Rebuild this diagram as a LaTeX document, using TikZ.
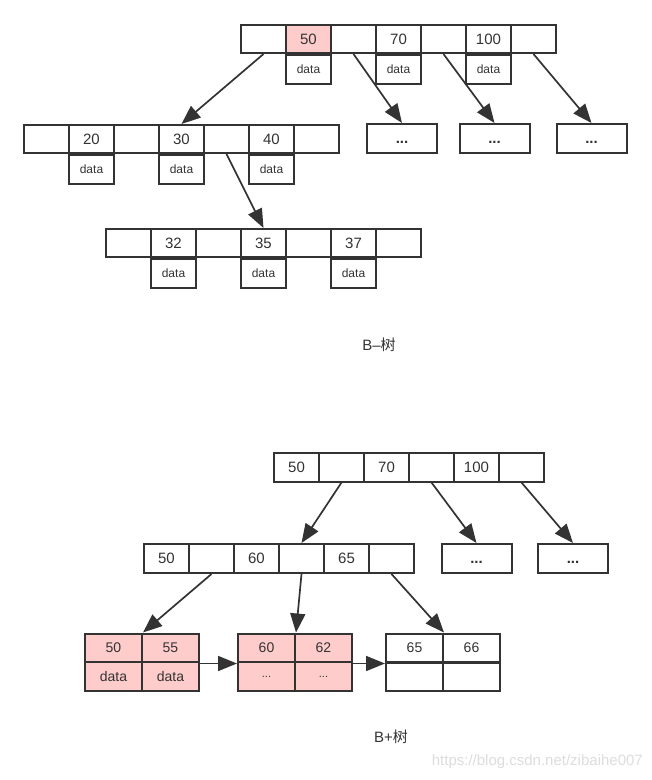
\documentclass[tikz,border=0pt]{standalone}
\usepackage{fontspec}
\setmainfont{Liberation Sans}
\newfontfamily\cjkfont{Noto Sans CJK SC}
\usetikzlibrary{arrows.meta}
\definecolor{ink}{HTML}{333333}
\definecolor{pinkfill}{HTML}{FFCCCC}
\definecolor{wm}{HTML}{DDDDDD}
\begin{document}
\begin{tikzpicture}[x=1pt,y=-1pt,
 cell/.style={draw=ink, line width=2pt, minimum width=45pt, minimum height=28pt, inner sep=0pt, text=ink, font=\fontsize{15}{15}\selectfont},
 datacell/.style={cell, minimum height=29pt, font=\fontsize{12}{12}\selectfont},
 dotbox/.style={cell, minimum width=70pt, minimum height=29pt, font=\fontsize{15}{15}\selectfont\bfseries},
 leafcell/.style={cell, minimum width=57pt, minimum height=29pt, font=\fontsize{14}{14}\selectfont},
 hl/.style={fill=pinkfill},
 arr/.style={draw=ink, line width=1.7pt, -{Triangle[length=19pt,width=15pt]}},
 treetitle/.style={text=ink, inner sep=0pt, font=\fontsize{15}{15}\selectfont},
 watermark/.style={text=wm, inner sep=0pt, font=\fontsize{15}{15}\selectfont}
]
\useasboundingbox[fill=white] (0,0) rectangle (652,780);

% ---------------- B- tree ----------------
% root
\foreach \i/\t in {1/,3/,4/70,5/,6/100,7/}
  \node[cell] (a\i) at ({263.5+45*(\i-1)},39) {\t};
\node[cell,hl] (a2) at (308.5,39) {50};
\node[datacell,anchor=north] (ad2) at (a2.south) {data};
\node[datacell,anchor=north] (ad4) at (a4.south) {data};
\node[datacell,anchor=north] (ad6) at (a6.south) {data};

% second level
\foreach \i/\t in {1/,2/20,3/,4/30,5/,6/40,7/}
  \node[cell] (s\i) at ({46.5+45*(\i-1)},139) {\t};
\node[datacell,anchor=north] (sd2) at (s2.south) {data};
\node[datacell,anchor=north] (sd4) at (s4.south) {data};
\node[datacell,anchor=north] (sd6) at (s6.south) {data};

% dots boxes
\node[dotbox] (d1) at (402,138.5) {\vphantom{0}...};
\node[dotbox] (d2) at (494.5,138.5) {\vphantom{0}...};
\node[dotbox] (d3) at (591.5,138.5) {\vphantom{0}...};

% third level
\foreach \i/\t in {1/,2/32,3/,4/35,5/,6/37,7/}
  \node[cell] (r\i) at ({128.5+45*(\i-1)},243) {\t};
\node[datacell,anchor=north] (rd2) at (r2.south) {data};
\node[datacell,anchor=north] (rd4) at (r4.south) {data};
\node[datacell,anchor=north] (rd6) at (r6.south) {data};

\draw[arr] (a1.south) -- (s4.north);
\draw[arr] (a3.south) -- (d1.north);
\draw[arr] (a5.south) -- (d2.north);
\draw[arr] (a7.south) -- (d3.north);
\draw[arr] (s5.south) -- (r4.north);

\node[treetitle] (tb) at (379,345) {B–{\cjkfont 树}};

% ---------------- B+ tree ----------------
\foreach \i/\t in {1/50,2/,3/70,4/,5/100,6/}
  \node[cell,minimum height=29pt] (p\i) at ({296.5+45*(\i-1)},467) {\t};

\foreach \i/\t in {1/50,2/,3/60,4/,5/65,6/}
  \node[cell,minimum height=29pt] (q\i) at ({166.5+45*(\i-1)},558.5) {\t};

\node[dotbox] (e1) at (476.5,558.5) {\vphantom{0}...};
\node[dotbox] (e2) at (573,558.5) {\vphantom{0}...};

% leaves
\node[leafcell,hl] (l11) at (113.5,648) {50};
\node[leafcell,hl] (l12) at (170.5,648) {55};
\node[leafcell,hl] (l13) at (113.5,676.5) {data};
\node[leafcell,hl] (l14) at (170.5,676.5) {data};

\node[leafcell,hl] (l21) at (266.5,648) {60};
\node[leafcell,hl] (l22) at (323.5,648) {62};
\node[leafcell,hl,font=\fontsize{11}{11}\selectfont] (l23) at (266.5,676.5) {...};
\node[leafcell,hl,font=\fontsize{11}{11}\selectfont] (l24) at (323.5,676.5) {...};

\node[leafcell] (l31) at (414.5,648) {65};
\node[leafcell] (l32) at (471.5,648) {66};
\node[leafcell] (l33) at (414.5,676.5) {};
\node[leafcell] (l34) at (471.5,676.5) {};

\draw[arr] (p2.south) -- (q4.north);
\draw[arr] (p4.south) -- (e1.north);
\draw[arr] (p6.south) -- (e2.north);
\draw[arr] (q2.south) -- (l11.north east);
\draw[arr] (q4.south) -- (l21.north east);
\draw[arr] (q6.south) -- (l31.north east);
\draw[arr] (l12.south east) -- (l21.south west);
\draw[arr] (l22.south east) -- (l31.south west);

\node[treetitle] (tp) at (391,737) {B+{\cjkfont 树}};

\node[watermark,anchor=east] (wmk) at (643,762) {https://blog.csdn.net/zibaihe007};
\end{tikzpicture}
\end{document}
